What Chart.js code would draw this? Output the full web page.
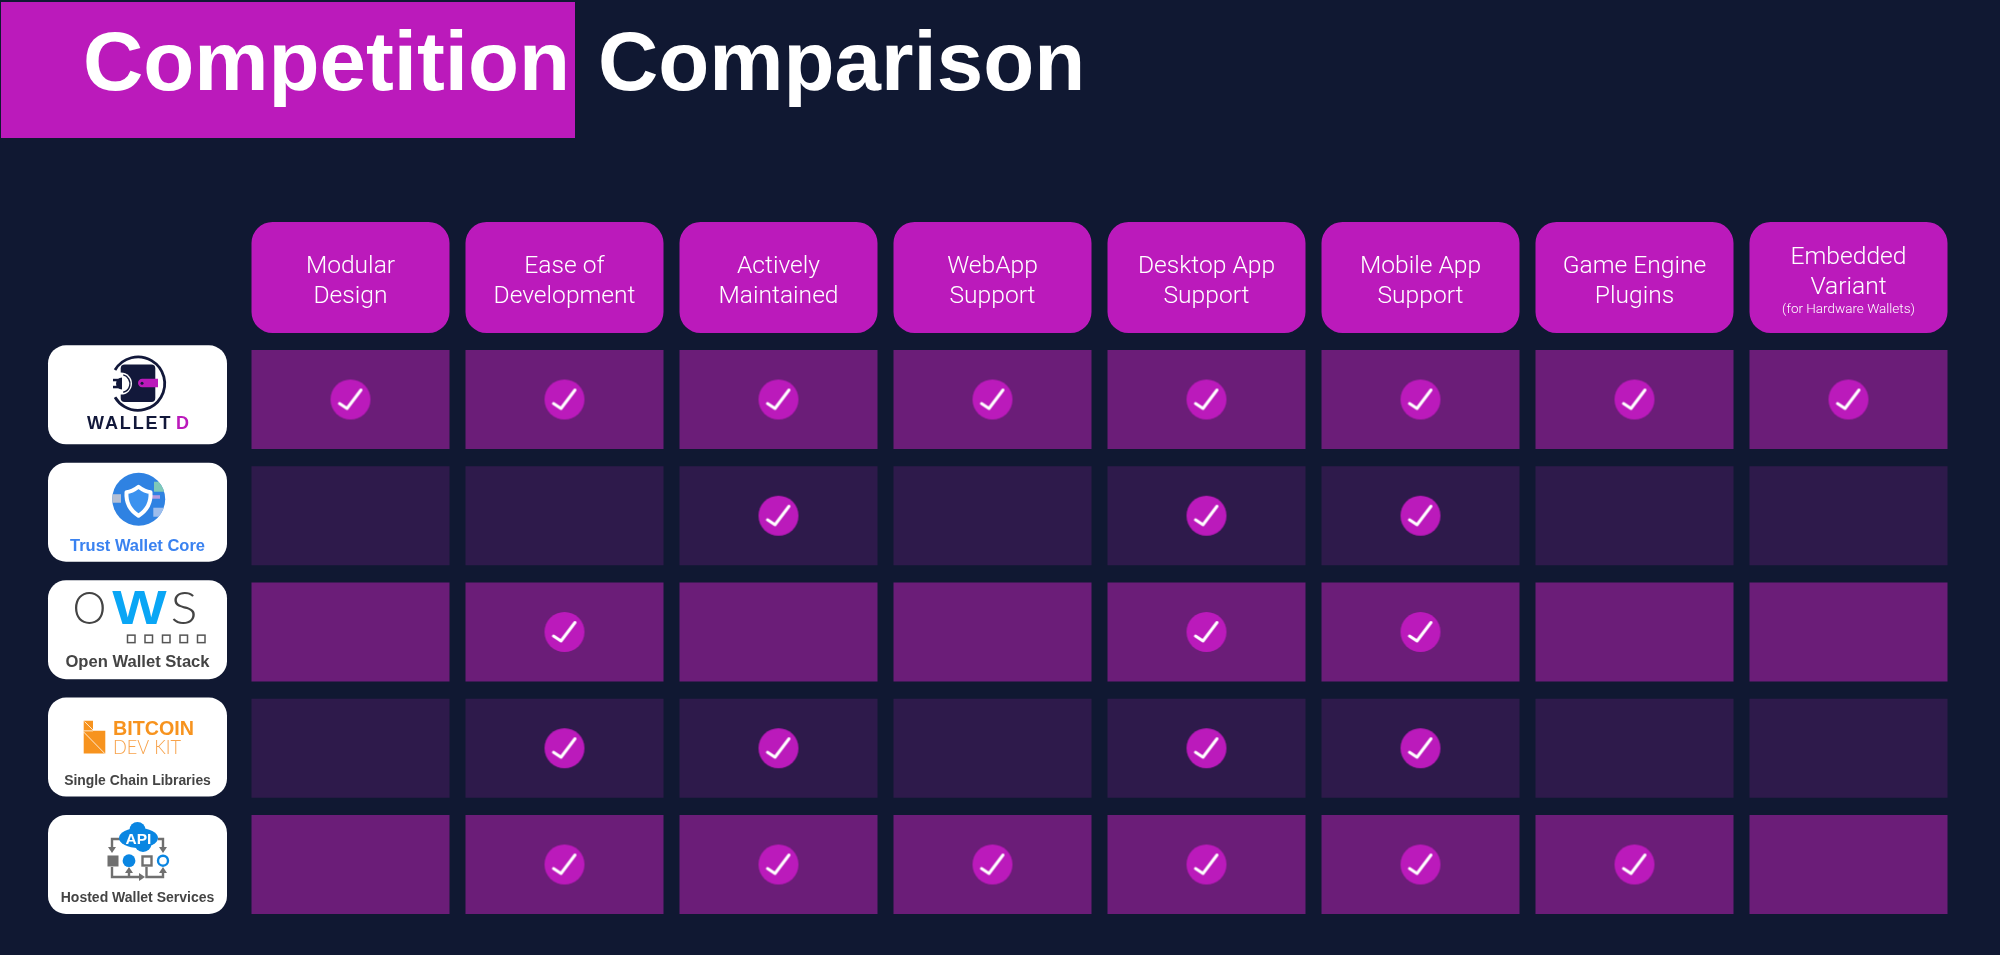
<!DOCTYPE html>
<html>
<head>
<meta charset="utf-8">
<title>Competition Comparison</title>
<script src="https://cdn.jsdelivr.net/npm/chart.js@4/dist/chart.umd.js"></script>
<style>
  html, body { margin: 0; padding: 0; width: 2000px; height: 955px; overflow: hidden; background: #101832; }
  #chart { position: absolute; left: 0; top: 0; }
  .title-box { position: absolute; left: 1px; top: 2px; width: 574px; height: 136px; background: #bb1abb; }
  .title { position: absolute; top: 19px; margin: 0; color: #fff; font: bold 83.5px/84px "Liberation Sans", sans-serif; white-space: nowrap; }
</style>
</head>
<body>
<div class="title-box"></div>
<h1 class="title" style="left:83px">Competition</h1>
<div class="title" style="left:598px">Comparison</div>
<canvas id="chart" width="2000" height="955"></canvas>
<script>
const features = ['Modular Design', 'Ease of Development', 'Actively Maintained', 'WebApp Support',
    'Desktop App Support', 'Mobile App Support', 'Game Engine Plugins', 'Embedded Variant'];
const featureLines = [['Modular', 'Design'], ['Ease of', 'Development'], ['Actively', 'Maintained'], ['WebApp', 'Support'],
    ['Desktop App', 'Support'], ['Mobile App', 'Support'], ['Game Engine', 'Plugins'], ['Embedded', 'Variant']];
const embeddedNote = '(for Hardware Wallets)';

const products = ['WalletD', 'Trust Wallet Core', 'Open Wallet Stack', 'Single Chain Libraries', 'Hosted Wallet Services'];
const walletD = [1, 1, 1, 1, 1, 1, 1, 1];
const trustWallet = [0, 0, 1, 0, 1, 1, 0, 0];
const openWallet = [0, 1, 0, 0, 1, 1, 0, 0];
const singleChain = [0, 1, 1, 0, 1, 1, 0, 0];
const hostedWallet = [0, 1, 1, 1, 1, 1, 1, 0];
const support = [walletD, trustWallet, openWallet, singleChain, hostedWallet];

const magenta = '#bb1abb';
const rowColors = ['#6b1d78', '#2e1a4b'];
const headerFont = '"Roboto", "Liberation Sans", sans-serif';
const boldFont = '"Liberation Sans", sans-serif';

// first slot of the x axis is the column of logo cards
const labels = ['', ...features];
const cellHalf = 0.4258;

function checkBadge() {
    const c = document.createElement('canvas');
    c.width = 44;
    c.height = 44;
    const g = c.getContext('2d');
    g.translate(22, 22);
    g.fillStyle = magenta;
    g.beginPath();
    g.arc(0, 0, 20, 0, Math.PI * 2);
    g.fill();
    g.strokeStyle = '#fff';
    g.lineWidth = 3;
    g.lineCap = 'round';
    g.lineJoin = 'round';
    g.beginPath();
    g.moveTo(-11, 4);
    g.lineTo(-3.5, 9);
    g.lineTo(10.5, -9.5);
    g.stroke();
    return c;
}

function drawWalletD(ctx) {
    const navy = '#12183a';
    ctx.strokeStyle = navy;
    ctx.lineWidth = 2.8;
    ctx.beginPath();
    ctx.arc(90, 38.3, 26.7, Math.PI * 1.17, Math.PI * 0.83);
    ctx.stroke();
    ctx.fillStyle = navy;
    ctx.beginPath();
    ctx.roundRect(72.7, 19.3, 34.6, 37.4, 4);
    ctx.fill();
    ctx.fillStyle = '#fff';
    ctx.beginPath();
    ctx.arc(73, 38.3, 11, 0, Math.PI * 2);
    ctx.fill();
    ctx.strokeStyle = navy;
    ctx.lineWidth = 1.5;
    ctx.beginPath();
    ctx.arc(73, 38.3, 9, -Math.PI * 0.42, Math.PI * 0.42);
    ctx.stroke();
    ctx.fillStyle = navy;
    ctx.beginPath();
    ctx.arc(74, 38.3, 6, Math.PI * 0.5, Math.PI * 1.5);
    ctx.fill();
    ctx.fillRect(65, 33.5, 7, 2.5);
    ctx.fillRect(65, 40.5, 7, 2.5);
    ctx.fillStyle = magenta;
    ctx.beginPath();
    ctx.roundRect(90, 33.5, 20, 8.5, [4.2, 0, 0, 4.2]);
    ctx.fill();
    ctx.fillStyle = navy;
    ctx.beginPath();
    ctx.arc(94, 38, 1.5, 0, Math.PI * 2);
    ctx.fill();
    ctx.font = 'bold 18px ' + boldFont;
    ctx.letterSpacing = '1.9px';
    ctx.textAlign = 'left';
    ctx.fillStyle = navy;
    ctx.fillText('WALLET', 39, 84);
    ctx.fillStyle = magenta;
    ctx.fillText('D', 128, 84);
    ctx.letterSpacing = '0px';
}

function drawTrust(ctx) {
    ctx.fillStyle = '#2f82e2';
    ctx.beginPath();
    ctx.arc(90.7, 36.5, 26.5, 0, Math.PI * 2);
    ctx.fill();
    ctx.save();
    ctx.clip();
    ctx.fillStyle = '#7fc9b8';
    ctx.fillRect(106, 19, 10, 10);
    ctx.fillStyle = '#b59be0';
    ctx.fillRect(104, 32.5, 8, 3.5);
    ctx.fillStyle = '#b4bfd4';
    ctx.fillRect(64, 31.5, 9, 8.5);
    ctx.fillStyle = '#9dbdec';
    ctx.fillRect(105.3, 45, 10, 9);
    ctx.restore();
    ctx.fillStyle = '#3b92ef';
    ctx.strokeStyle = '#fff';
    ctx.lineWidth = 4;
    ctx.lineJoin = 'round';
    ctx.beginPath();
    ctx.moveTo(90.5, 24);
    ctx.quadraticCurveTo(97, 29, 102.5, 29.5);
    ctx.quadraticCurveTo(103.5, 45, 90.5, 53);
    ctx.quadraticCurveTo(77.5, 45, 78.5, 29.5);
    ctx.quadraticCurveTo(84, 29, 90.5, 24);
    ctx.closePath();
    ctx.fill();
    ctx.stroke();
}

function stretchedText(ctx, text, cx, y, sx) {
    ctx.save();
    ctx.translate(cx, y);
    ctx.scale(sx, 1);
    ctx.fillText(text, 0, 0);
    ctx.restore();
}

function drawOws(ctx) {
    ctx.textAlign = 'center';
    ctx.fillStyle = '#444';
    ctx.font = '300 46px "Lato", ' + boldFont;
    stretchedText(ctx, 'O', 41.5, 44, 0.93);
    stretchedText(ctx, 'S', 136, 44, 1.1);
    ctx.fillStyle = '#0aa6f5';
    ctx.font = 'bold 48px ' + boldFont;
    stretchedText(ctx, 'W', 91.5, 44, 1.2);
    ctx.strokeStyle = '#555';
    ctx.lineWidth = 1.5;
    [83, 100.5, 118, 135.5, 153].forEach(x => ctx.strokeRect(x - 3.5, 55, 7.5, 7.5));
}

function drawBitcoinKit(ctx) {
    const orange = '#f7931e';
    ctx.fillStyle = orange;
    ctx.beginPath();
    ctx.moveTo(35.7, 23.3);
    ctx.lineTo(45, 23.3);
    ctx.lineTo(45, 33.3);
    ctx.lineTo(57.3, 33.3);
    ctx.lineTo(57.3, 56);
    ctx.lineTo(35.7, 56);
    ctx.closePath();
    ctx.fill();
    ctx.strokeStyle = '#fff';
    ctx.lineWidth = 0.8;
    ctx.beginPath();
    ctx.moveTo(36.5, 24);
    ctx.lineTo(45, 32.5);
    ctx.moveTo(35.7, 34.5);
    ctx.lineTo(56.8, 56);
    ctx.moveTo(35.7, 33.3);
    ctx.lineTo(45, 33.3);
    ctx.stroke();
    ctx.textAlign = 'left';
    ctx.font = 'bold 20px ' + boldFont;
    ctx.fillText('BITCOIN', 65, 37.7, 81);
    ctx.fillStyle = '#f7a24a';
    ctx.font = '300 19.5px "Lato", ' + boldFont;
    ctx.fillText('DEV KIT', 65, 56, 68);
}

function arrowHead(ctx, x, y, dir) {
    const a = { down: [[-4, -6], [4, -6]], up: [[-4, 6], [4, 6]], right: [[-6, -4], [-6, 4]] }[dir];
    ctx.beginPath();
    ctx.moveTo(x, y);
    ctx.lineTo(x + a[0][0], y + a[0][1]);
    ctx.lineTo(x + a[1][0], y + a[1][1]);
    ctx.closePath();
    ctx.fill();
}

function drawHosted(ctx) {
    const gray = '#6f6f6f';
    const blue = '#0a86e2';
    ctx.strokeStyle = gray;
    ctx.fillStyle = gray;
    ctx.lineWidth = 2.4;
    ctx.beginPath();
    ctx.moveTo(72, 24); ctx.lineTo(64, 24); ctx.lineTo(64, 33);
    ctx.moveTo(110, 24); ctx.lineTo(115, 24); ctx.lineTo(115, 33);
    ctx.moveTo(64, 52); ctx.lineTo(64, 62); ctx.lineTo(93, 62);
    ctx.moveTo(81, 62); ctx.lineTo(81, 55);
    ctx.moveTo(98.5, 52); ctx.lineTo(98.5, 62); ctx.lineTo(115, 62); ctx.lineTo(115, 55);
    ctx.stroke();
    arrowHead(ctx, 64, 38, 'down');
    arrowHead(ctx, 115, 38, 'down');
    arrowHead(ctx, 81, 52, 'up');
    arrowHead(ctx, 115, 52, 'up');
    arrowHead(ctx, 97, 62, 'right');
    ctx.fillRect(59.5, 40.5, 11, 11);
    ctx.strokeRect(94.5, 41.5, 9, 9);
    ctx.fillStyle = blue;
    ctx.beginPath();
    ctx.arc(81, 45.7, 6.4, 0, Math.PI * 2);
    ctx.fill();
    ctx.strokeStyle = blue;
    ctx.lineWidth = 2.4;
    ctx.beginPath();
    ctx.arc(115, 45.7, 5, 0, Math.PI * 2);
    ctx.stroke();
    ctx.beginPath();
    ctx.ellipse(90.5, 23, 19.5, 10, 0, 0, Math.PI * 2);
    ctx.fill();
    ctx.beginPath();
    ctx.arc(95, 28.5, 8.5, 0, Math.PI * 2);
    ctx.fill();
    ctx.beginPath();
    ctx.arc(89.5, 15, 8, 0, Math.PI * 2);
    ctx.fill();
    ctx.fillStyle = '#fff';
    ctx.textAlign = 'center';
    ctx.font = 'bold 15.5px ' + boldFont;
    ctx.fillText('API', 90.5, 29);
}

const logoPainters = [drawWalletD, drawTrust, drawOws, drawBitcoinKit, drawHosted];
// caption under each logo: size, colour and baseline inside the card
const captionStyles = [null,
    { size: 16.5, color: '#3a82f0', y: 88.5 },
    { size: 16.6, color: '#444', y: 87.3 },
    { size: 13.9, color: '#444', y: 87.3 },
    { size: 14, color: '#444', y: 87.3 }];

const tablePainter = {
    id: 'tablePainter',
    afterDatasetsUpdate(chart) {
        // cards sit one pixel right of the slot centre
        products.forEach((name, row) => { chart.getDatasetMeta(row).data[0].x += 1; });
    },
    afterDatasetsDraw(chart) {
        const { ctx, scales: { x, y } } = chart;
        ctx.save();
        ctx.textBaseline = 'alphabetic';
        ctx.textAlign = 'center';
        ctx.fillStyle = '#fff';
        featureLines.forEach((lines, i) => {
            const cx = x.getPixelForValue(i + 1);
            const mid = y.getPixelForValue(-1.049);
            const hasNote = i === featureLines.length - 1;
            const top = hasNote ? mid - 13.5 : mid - 4.5;
            ctx.font = '300 24.6px ' + headerFont;
            lines.forEach((line, n) => ctx.fillText(line, cx, top + n * 29.5));
            if (hasNote) {
                ctx.font = '300 13.5px ' + headerFont;
                ctx.fillText(embeddedNote, cx, mid + 35.5);
            }
        });
        products.forEach((name, row) => {
            const bar = chart.getDatasetMeta(row).data[0];
            ctx.save();
            ctx.translate(bar.x - bar.width / 2, Math.min(bar.y, bar.base));
            logoPainters[row](ctx);
            const cap = captionStyles[row];
            if (cap) {
                ctx.textAlign = 'center';
                ctx.fillStyle = cap.color;
                ctx.font = 'bold ' + cap.size + 'px ' + boldFont;
                ctx.fillText(name, bar.width / 2, cap.y);
            }
            ctx.restore();
        });
        ctx.restore();
    }
};

const cardDatasets = products.map((name, row) => {
    // cards have a slightly larger pitch than the cells
    const mid = row - (4 - row) * 0.0101;
    return {
        label: name + ' card',
        data: labels.map((l, i) => (i === 0 ? [mid - cellHalf, mid + cellHalf] : null)),
        backgroundColor: '#fff',
        barPercentage: 179 / 214,
        borderRadius: 18,
        order: 1
    };
});

const cellDatasets = support.map((values, row) => ({
    label: products[row],
    data: labels.map((l, i) => (i === 0 ? null : [row - cellHalf, row + cellHalf])),
    backgroundColor: rowColors[row % 2],
    barPercentage: 198 / 214,
    borderRadius: 0,
    order: 2
}));

const headerDataset = {
    label: 'Features',
    data: labels.map((l, i) => (i === 0 ? null : [-1.527, -0.572])),
    backgroundColor: magenta,
    barPercentage: 198 / 214,
    borderRadius: 21,
    order: 2
};

const badge = checkBadge();
const checkDatasets = support.map((values, row) => ({
    type: 'line',
    label: products[row] + ' support',
    data: [null, ...values.map(v => (v ? row : null))],
    showLine: false,
    pointStyle: badge,
    pointRadius: 20,
    order: 0
}));

new Chart(document.getElementById('chart'), {
    type: 'bar',
    data: {
        labels,
        datasets: [...cardDatasets, ...cellDatasets, headerDataset, ...checkDatasets]
    },
    options: {
        responsive: false,
        animation: false,
        events: [],
        layout: { padding: { left: 29.5, right: 44.5, top: 213.5, bottom: 32.4 } },
        datasets: {
            bar: { grouped: false, categoryPercentage: 1, borderSkipped: false, inflateAmount: 0 }
        },
        plugins: {
            legend: { display: false },
            tooltip: { enabled: false }
        },
        scales: {
            x: { display: false },
            y: { display: false, reverse: true, min: -1.6, max: 4.5 }
        }
    },
    plugins: [tablePainter]
});
</script>
</body>
</html>
